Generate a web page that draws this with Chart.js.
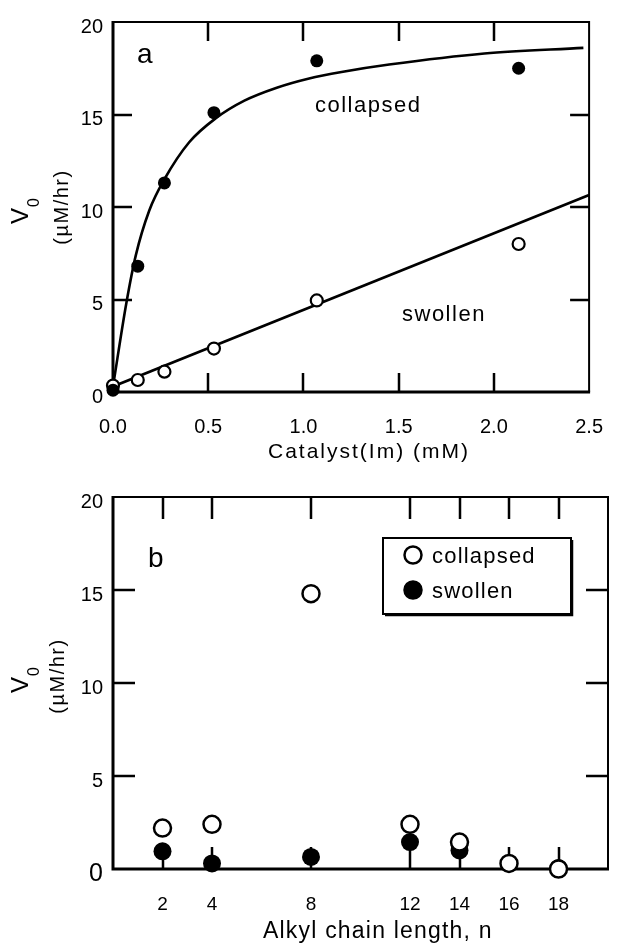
<!DOCTYPE html>
<html>
<head>
<meta charset="utf-8">
<script src="https://cdn.jsdelivr.net/npm/chart.js@4.4.1/dist/chart.umd.min.js"></script>
<style>
    body { margin: 0; background: #fff; }
    .panel { position: relative; width: 626px; }
</style>
</head>
<body>
<div class="panel" style="height:470px"><canvas id="chart-a" width="626" height="470"></canvas></div>
<div class="panel" style="height:473px"><canvas id="chart-b" width="626" height="473"></canvas></div>
<script>
// panel a - rate vs catalyst concentration
var catalystConc = [0, 0.13, 0.27, 0.53, 1.07, 2.13];
var collapsedRate = [0.1, 6.8, 11.3, 15.1, 17.9, 17.5];
var swollenRate = [0.35, 0.65, 1.1, 2.35, 4.95, 8.0];

// fitted curves
var collapsedFitX = [0, 0.07, 0.12, 0.19, 0.27, 0.40, 0.54, 0.69, 0.86, 1.03, 1.20, 1.45, 1.95, 2.47];
var collapsedFitY = [0.3, 4.8, 7.4, 9.8, 11.5, 13.5, 14.8, 15.75, 16.45, 16.95, 17.3, 17.7, 18.3, 18.6];
var swollenFitX = [0, 2.5];
var swollenFitY = [0.3, 10.65];

var catalystTicks = [0, 0.5, 1.0, 1.5, 2.0, 2.5];
var rateTicks = [0, 5, 10, 15, 20];

// panel b - rate vs alkyl chain length
var chainLength = [2, 4, 8, 12, 14, 16, 18];
var collapsedByChain = [2.2, 2.4, 14.8, 2.4, 1.45, 0.3, 0.0];
var swollenByChain = [0.95, 0.3, 0.65, 1.45, 1.0, 0.3, 0.05];
var chainTicks = [2, 4, 8, 12, 14, 16, 18];

var ink = '#000';
var family = '"Liberation Sans", Arial, Helvetica, sans-serif';

function pairs(xs, ys) {
    var out = [];
    for (var i = 0; i < xs.length; i++) {
        out.push({ x: xs[i], y: ys[i] });
    }
    return out;
}

function setTicks(values) {
    return function (scale) {
        scale.ticks = values.map(function (v) { return { value: v }; });
    };
}

// box, inward tick marks on all four sides
var framePlugin = {
    id: 'frame',
    beforeDatasetsDraw: function (chart, args, opts) {
        var ctx = chart.ctx, a = chart.chartArea;
        var xs = chart.scales.x, ys = chart.scales.y;
        var len = opts.tickLen;
        ctx.save();
        ctx.strokeStyle = ink;
        ctx.lineCap = 'butt';
        ctx.lineWidth = 2.5;
        ctx.beginPath();
        xs.ticks.forEach(function (t) {
            if (t.value <= xs.min || t.value >= xs.max) return;
            var px = Math.round(xs.getPixelForValue(t.value));
            ctx.moveTo(px, a.bottom); ctx.lineTo(px, a.bottom - len);
            ctx.moveTo(px, a.top); ctx.lineTo(px, a.top + len);
        });
        ys.ticks.forEach(function (t) {
            if (t.value <= ys.min || t.value >= ys.max) return;
            var py = Math.round(ys.getPixelForValue(t.value));
            ctx.moveTo(a.left, py); ctx.lineTo(a.left + len, py);
            ctx.moveTo(a.right, py); ctx.lineTo(a.right - len, py);
        });
        ctx.stroke();

        ctx.lineWidth = 2;
        ctx.beginPath();
        ctx.moveTo(a.left, a.top); ctx.lineTo(a.right, a.top); ctx.lineTo(a.right, a.bottom);
        ctx.stroke();
        ctx.lineWidth = 3;
        ctx.beginPath();
        ctx.moveTo(a.left, a.top - 1); ctx.lineTo(a.left, a.bottom); ctx.lineTo(a.right + 1, a.bottom);
        ctx.stroke();
        ctx.restore();
    }
};

// free text, axis titles, boxed key
var notesPlugin = {
    id: 'notes',
    afterDraw: function (chart, args, opts) {
        var ctx = chart.ctx;
        (opts.items || []).forEach(function (n) {
            ctx.save();
            ctx.font = (n.weight || 'normal') + ' ' + n.size + 'px ' + family;
            ctx.fillStyle = ink;
            ctx.textAlign = n.align || 'left';
            ctx.textBaseline = 'alphabetic';
            if (n.spacing) ctx.letterSpacing = n.spacing + 'px';
            ctx.fillText(n.text, n.x, n.y);
            ctx.restore();
        });

        var yt = opts.yTitle;
        if (yt) {
            // "V0" with subscript
            ctx.save();
            ctx.fillStyle = ink;
            ctx.translate(yt.vx, yt.vy);
            ctx.rotate(-Math.PI / 2);
            ctx.textBaseline = 'alphabetic';
            ctx.textAlign = 'left';
            ctx.font = '24px ' + family;
            var wV = ctx.measureText('V').width;
            ctx.font = '16px ' + family;
            var w0 = ctx.measureText('0').width;
            var start = -(wV + w0 + 1) / 2;
            ctx.font = '24px ' + family;
            ctx.fillText('V', start, 8);
            ctx.font = '16px ' + family;
            ctx.fillText('0', start + wV + 1, 19);
            ctx.restore();

            ctx.save();
            ctx.fillStyle = ink;
            ctx.translate(yt.ux, yt.uy);
            ctx.rotate(-Math.PI / 2);
            ctx.textBaseline = 'alphabetic';
            ctx.textAlign = 'center';
            ctx.font = '20px ' + family;
            ctx.letterSpacing = '1.5px';
            ctx.fillText('(\u00B5M/hr)', 0, 7);
            ctx.restore();
        }

        var k = opts.key;
        if (k) {
            ctx.save();
            ctx.fillStyle = '#fff';
            ctx.fillRect(k.x, k.y, k.w, k.h);
            ctx.strokeStyle = ink;
            ctx.lineWidth = 2;
            ctx.strokeRect(k.x, k.y, k.w, k.h);
            ctx.lineWidth = 1.5;
            ctx.beginPath();
            ctx.moveTo(k.x + k.w + 1.5, k.y + 2); ctx.lineTo(k.x + k.w + 1.5, k.y + k.h + 1.5); ctx.lineTo(k.x + 2, k.y + k.h + 1.5);
            ctx.stroke();
            k.rows.forEach(function (r, i) {
                var cy = k.y + k.rowTop + i * k.rowGap;
                ctx.beginPath();
                ctx.arc(k.x + k.markX, cy, 8.5, 0, Math.PI * 2);
                ctx.fillStyle = r.fill;
                ctx.fill();
                ctx.lineWidth = 2.5;
                ctx.strokeStyle = ink;
                ctx.stroke();
                ctx.fillStyle = ink;
                ctx.font = '22px ' + family;
                ctx.letterSpacing = '1.2px';
                ctx.textAlign = 'left';
                ctx.textBaseline = 'alphabetic';
                ctx.fillText(r.label, k.x + k.textX, cy + 8);
            });
            ctx.restore();
        }
    }
};

function baseScales(o) {
    return {
        x: {
            type: 'linear',
            min: o.xMin,
            max: o.xMax,
            afterBuildTicks: setTicks(o.xTicks),
            afterFit: function (s) { s.height = o.xHeight; },
            grid: { display: false, drawTicks: false },
            border: { display: false },
            ticks: {
                color: ink,
                font: { family: family, size: o.xFont },
                padding: o.xPad,
                maxRotation: 0,
                autoSkip: false,
                callback: o.xFormat
            }
        },
        y: {
            type: 'linear',
            min: 0,
            max: 20,
            afterBuildTicks: setTicks(rateTicks),
            afterFit: function (s) { s.width = 113; },
            grid: { display: false, drawTicks: false },
            border: { display: false },
            ticks: {
                color: ink,
                font: o.yFont,
                padding: 10,
                labelOffset: 5
            }
        }
    };
}

var ctxA = document.getElementById('chart-a').getContext('2d');
var chartA = new Chart(ctxA, {
    type: 'scatter',
    data: {
        datasets: [{
            label: 'collapsed',
            data: pairs(catalystConc, collapsedRate),
            pointRadius: 6.5,
            pointBackgroundColor: ink,
            pointBorderColor: ink,
            pointBorderWidth: 0,
            clip: false,
            order: 0
        }, {
            label: 'swollen',
            data: pairs(catalystConc, swollenRate),
            pointRadius: 6,
            pointBackgroundColor: '#fff',
            pointBorderColor: ink,
            pointBorderWidth: 2.2,
            clip: false,
            order: 1
        }, {
            label: 'collapsed fit',
            data: pairs(collapsedFitX, collapsedFitY),
            showLine: true,
            borderColor: ink,
            borderWidth: 2.6,
            pointRadius: 0,
            cubicInterpolationMode: 'monotone',
            clip: false,
            order: 2
        }, {
            label: 'swollen fit',
            data: pairs(swollenFitX, swollenFitY),
            showLine: true,
            borderColor: ink,
            borderWidth: 2.6,
            pointRadius: 0,
            order: 3
        }]
    },
    options: {
        responsive: false,
        animation: false,
        events: [],
        layout: { padding: { left: 0, right: 18, top: 19, bottom: 0 } },
        scales: baseScales({
            xMin: 0, xMax: 2.5, xTicks: catalystTicks, xHeight: 78, xFont: 20, xPad: 23,
            xFormat: function (v) { return Number(v).toFixed(1); },
            yFont: { family: family, size: 20 }
        }),
        plugins: {
            legend: { display: false },
            tooltip: { enabled: false },
            frame: { tickLen: 19 },
            notes: {
                items: [
                    { text: 'a', x: 137, y: 63, size: 28 },
                    { text: 'collapsed', x: 315, y: 112, size: 22, spacing: 1.5 },
                    { text: 'swollen', x: 402, y: 321, size: 22, spacing: 1.5 },
                    { text: 'Catalyst(Im) (mM)', x: 268, y: 458, size: 21, spacing: 2 }
                ],
                yTitle: { vx: 20, vy: 211, ux: 61, uy: 207 }
            }
        }
    },
    plugins: [framePlugin, notesPlugin]
});

var ctxB = document.getElementById('chart-b').getContext('2d');
var chartB = new Chart(ctxB, {
    type: 'scatter',
    data: {
        datasets: [{
            label: 'collapsed',
            data: pairs(chainLength, collapsedByChain),
            pointRadius: 8.5,
            pointBackgroundColor: '#fff',
            pointBorderColor: ink,
            pointBorderWidth: 2.5,
            clip: false,
            order: 0
        }, {
            label: 'swollen',
            data: pairs(chainLength, swollenByChain),
            pointRadius: 9,
            pointBackgroundColor: ink,
            pointBorderColor: ink,
            pointBorderWidth: 0,
            clip: false,
            order: 1
        }]
    },
    options: {
        responsive: false,
        animation: false,
        events: [],
        layout: { padding: { left: 0, right: 18, top: 27, bottom: 0 } },
        scales: baseScales({
            xMin: 0, xMax: 20, xTicks: chainTicks, xHeight: 74, xFont: 19, xPad: 24,
            xFormat: function (v) { return String(v); },
            yFont: function (c) {
                return { family: family, size: c.tick && c.tick.value === 0 ? 25 : 20 };
            }
        }),
        plugins: {
            legend: { display: false },
            tooltip: { enabled: false },
            frame: { tickLen: 22 },
            notes: {
                items: [
                    { text: 'b', x: 148, y: 97, size: 28 },
                    { text: 'Alkyl chain length, n', x: 263, y: 468, size: 23, spacing: 1.2 }
                ],
                yTitle: { vx: 20, vy: 210, ux: 57, uy: 206 },
                key: {
                    x: 383, y: 68, w: 188, h: 76,
                    markX: 30, textX: 49, rowTop: 17, rowGap: 35,
                    rows: [
                        { label: 'collapsed', fill: '#fff' },
                        { label: 'swollen', fill: ink }
                    ]
                }
            }
        }
    },
    plugins: [framePlugin, notesPlugin]
});
</script>
</body>
</html>
